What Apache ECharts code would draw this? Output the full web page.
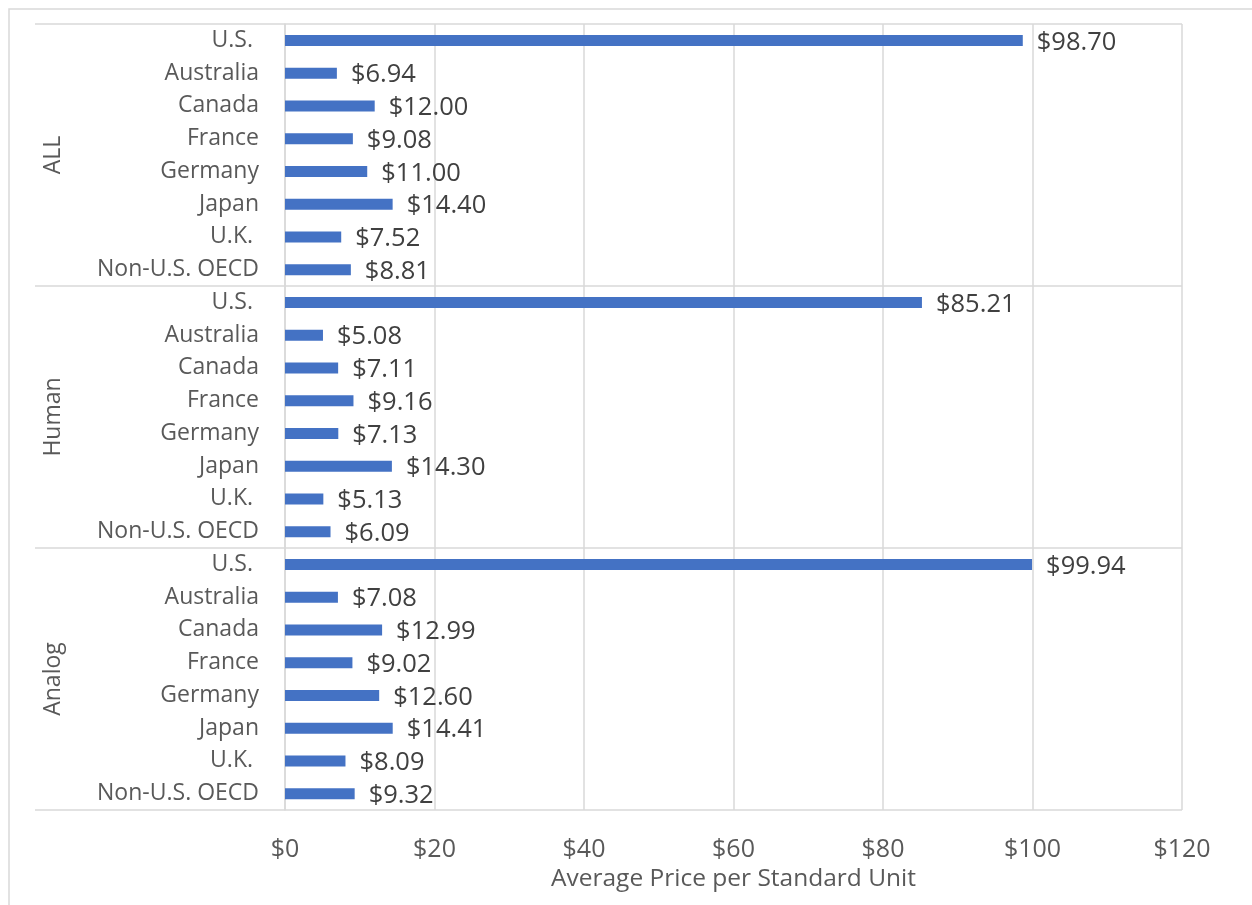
<!DOCTYPE html>
<html lang="en">

<head>
  <meta charset="UTF-8">
  <title>Average Price per Standard Unit</title>
  <script src="https://cdn.jsdelivr.net/npm/echarts@6/dist/echarts.min.js"></script>
  <style>
    html, body { margin: 0; padding: 0; background: #fff; overflow: hidden; }
  </style>
</head>

<body>
  <div id="main" style="width:1252px;height:905px;"></div>
  <script type="text/javascript">
    var groups = ["ALL", "Human", "Analog"];
    var countries = ["U.S. ", "Australia", "Canada", "France", "Germany", "Japan", "U.K. ", "Non-U.S. OECD"];
    var allValues = [98.70, 6.94, 12.00, 9.08, 11.00, 14.40, 7.52, 8.81];
    var humanValues = [85.21, 5.08, 7.11, 9.16, 7.13, 14.30, 5.13, 6.09];
    var analogValues = [99.94, 7.08, 12.99, 9.02, 12.60, 14.41, 8.09, 9.32];
    var xTicks = [0, 20, 40, 60, 80, 100, 120];

    var font = "Open Sans";
    var gridColor = "#d9d9d9";

    // one row per group/country pair, keys kept unique for the category axis
    var rowKeys = [];
    var rowValues = [];
    [allValues, humanValues, analogValues].forEach(function (vals, g) {
      countries.forEach(function (c, i) {
        rowKeys.push(groups[g] + "|" + c);
        rowValues.push(vals[i]);
      });
    });

    var myChart = echarts.init(document.getElementById('main'));
    var option = {
      animation: false,
      graphic: [{
        type: 'rect',
        shape: { x: 9, y: 9, width: 1400, height: 1100 },
        style: { fill: 'none', stroke: gridColor, lineWidth: 1.5 },
        silent: true
      }],
      grid: { left: 285, right: 70, top: 24, bottom: 95 },
      xAxis: {
        type: 'value',
        min: xTicks[0],
        max: xTicks[xTicks.length - 1],
        interval: 20,
        axisLine: { show: false },
        axisTick: { show: false },
        splitLine: { lineStyle: { color: gridColor, width: 1.5 } },
        axisLabel: {
          margin: 27,
          fontFamily: font,
          fontSize: 25,
          color: '#595959',
          formatter: function (v) { return '$' + v; }
        },
        name: 'Average Price per Standard Unit',
        nameLocation: 'middle',
        nameGap: 56,
        nameTextStyle: { fontFamily: font, fontSize: 24.5, color: '#595959' }
      },
      yAxis: [
        {
          type: 'category',
          data: rowKeys,
          inverse: true,
          axisLine: { show: false },
          axisTick: { show: false },
          splitLine: { show: false },
          axisLabel: {
            interval: 0,
            margin: 26,
            fontFamily: font,
            fontSize: 23,
            color: '#595959',
            formatter: function (v) { return v.split('|')[1]; }
          }
        },
        {
          type: 'category',
          data: groups,
          inverse: true,
          position: 'left',
          axisLine: { show: true, lineStyle: { color: gridColor, width: 1.5 } },
          axisTick: { show: true, length: 250, lineStyle: { color: gridColor, width: 1.5 } },
          splitLine: { show: true, lineStyle: { color: gridColor, width: 1.5 } },
          axisLabel: {
            rotate: 90,
            margin: 220,
            fontFamily: font,
            fontSize: 23,
            color: '#595959'
          }
        }
      ],
      series: [
        {
          type: 'bar',
          data: rowValues,
          yAxisIndex: 0,
          barWidth: 11,
          itemStyle: { color: '#4472C4' },
          label: {
            show: true,
            position: 'right',
            distance: 14,
            offset: [0, 2],
            fontFamily: font,
            fontSize: 25.5,
            color: '#404040',
            formatter: function (p) { return '$' + p.value.toFixed(2); }
          }
        }
      ]
    };
    myChart.setOption(option);
  </script>
</body>

</html>
